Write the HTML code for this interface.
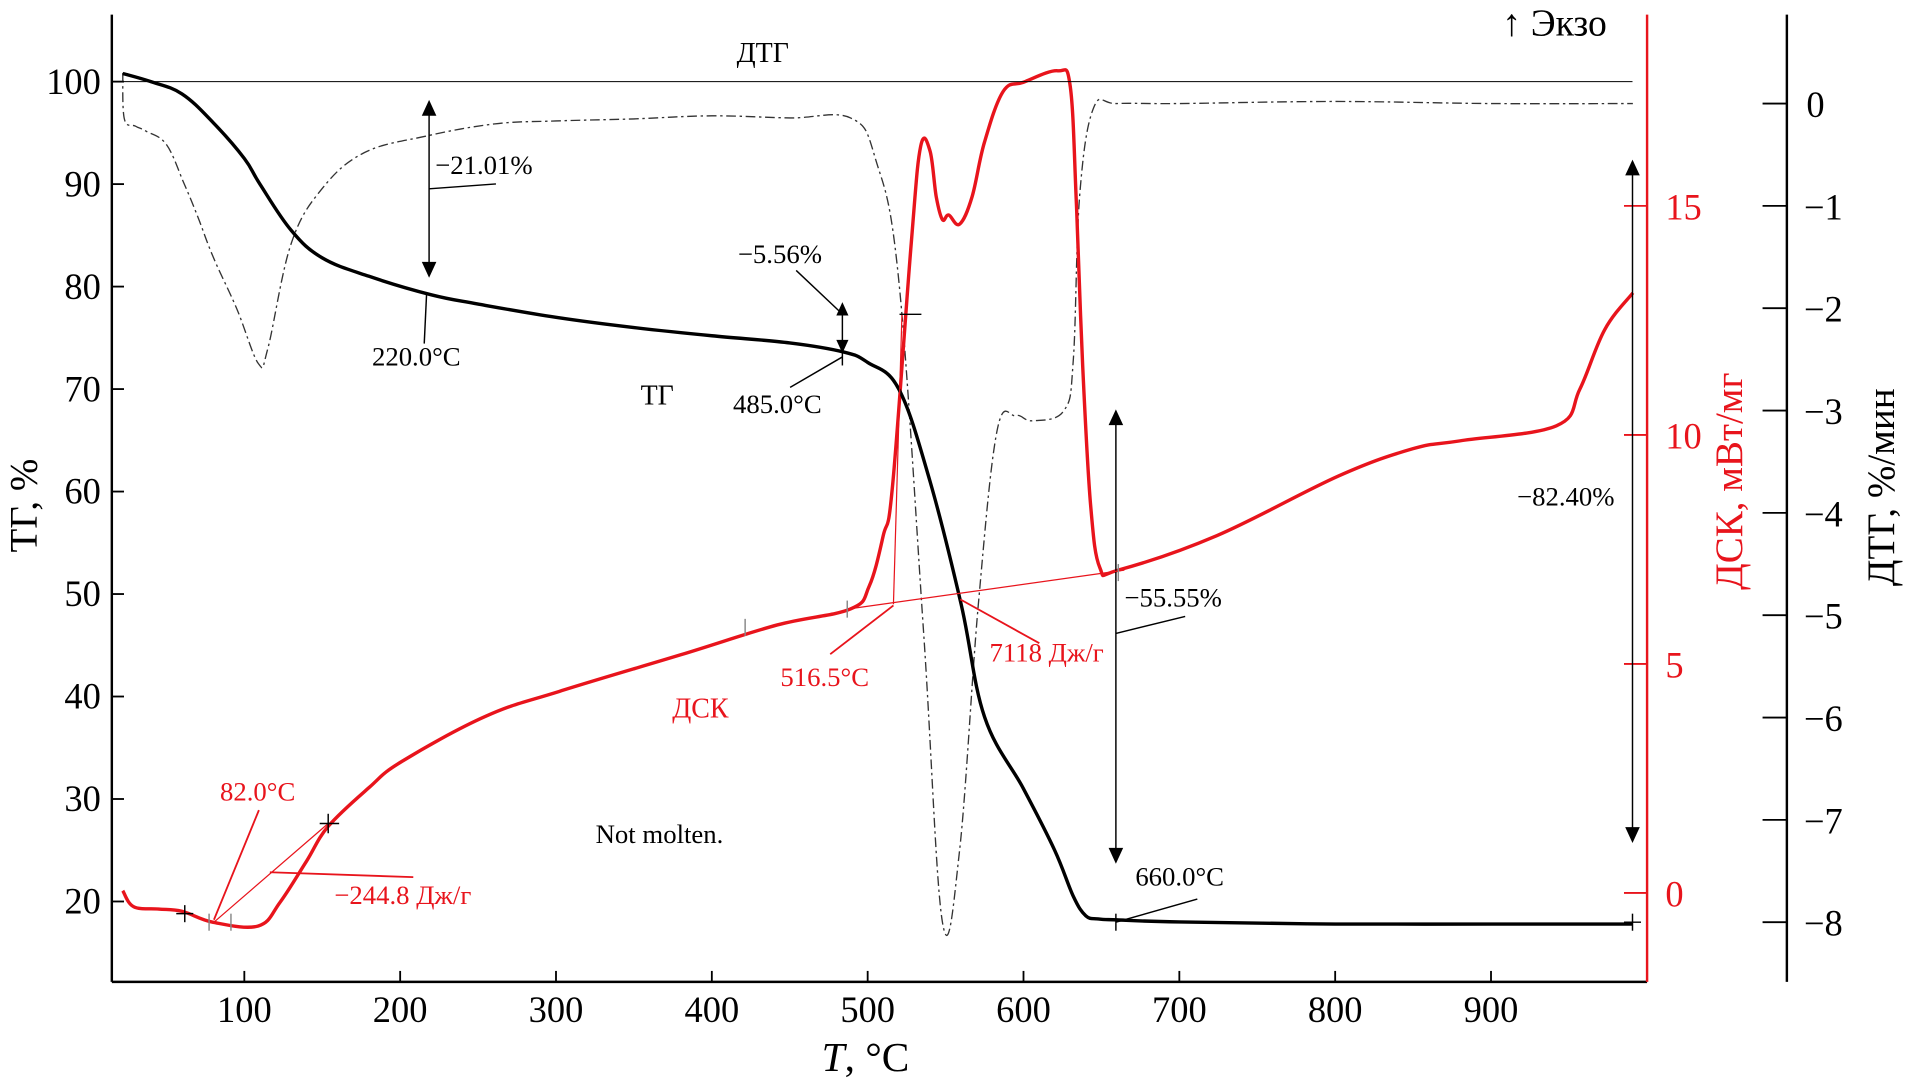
<!DOCTYPE html>
<html><head><meta charset="utf-8"><style>
html,body{margin:0;padding:0;background:#fff;}
svg{display:block;}
text{font-family:"Liberation Serif",serif;}
</style></head><body>
<svg id="chart" width="1906" height="1083" viewBox="0 0 1568 889" preserveAspectRatio="none" xmlns="http://www.w3.org/2000/svg">
<g id="axes"></g>
<g id="series"></g>
<g id="ann">
  <line x1="92" y1="67" x2="1343" y2="67" stroke="#000" stroke-width="0.8"/>
  <text x="606" y="51" font-size="23">ДТГ</text>
  <text x="1236" y="29" font-size="31">↑ Экзо</text>
  <text x="527" y="332" font-size="23">ТГ</text>
  <text x="553" y="589" font-size="23" fill="#e8141c">ДСК</text>
  <text x="490" y="692" font-size="22">Not molten.</text>
  <g stroke="#000" stroke-width="1.2" fill="none">
    <line x1="353" y1="92" x2="353" y2="218"/><line x1="353" y1="155" x2="408" y2="151"/>
    <line x1="351" y1="240" x2="349" y2="282"/>
    <line x1="655" y1="222" x2="690" y2="255"/>
    <line x1="693" y1="255" x2="693" y2="283"/><line x1="693" y1="293" x2="650" y2="318"/>
    <line x1="918" y1="345" x2="918" y2="700"/><line x1="918" y1="520" x2="975" y2="506"/>
    <line x1="918" y1="757" x2="985" y2="738"/>
    <line x1="1343" y1="140" x2="1343" y2="683"/>
    <line x1="918" y1="750" x2="918" y2="764"/><line x1="693" y1="286" x2="693" y2="300"/>
    <line x1="1336" y1="757" x2="1350" y2="757"/><line x1="1343" y1="750" x2="1343" y2="764"/>
  </g>
  <g fill="#000">
    <polygon points="353,82 347,95 359,95"/><polygon points="353,228 347,215 359,215"/>
    <polygon points="693,248 688,259 698,259"/><polygon points="693,290 688,279 698,279"/>
    <polygon points="918,336 912,349 924,349"/><polygon points="918,709 912,696 924,696"/>
    <polygon points="1343,131 1337,144 1349,144"/><polygon points="1343,692 1337,679 1349,679"/>
  </g>
  <text x="358" y="143" font-size="22">−21.01%</text>
  <text x="306" y="300" font-size="22">220.0°C</text>
  <text x="607" y="216" font-size="22">−5.56%</text>
  <text x="603" y="339" font-size="22">485.0°C</text>
  <text x="925" y="498" font-size="22">−55.55%</text>
  <text x="934" y="727" font-size="22">660.0°C</text>
  <text x="1248" y="415" font-size="22">−82.40%</text>
  <g stroke="#e8141c" stroke-width="1" fill="none">
    <line x1="176" y1="757" x2="270" y2="676"/>
    <line x1="213" y1="665" x2="176" y2="755" stroke-width="1.5"/>
    <line x1="222" y1="716" x2="340" y2="720" stroke-width="1.5"/>
    <line x1="697" y1="500" x2="925" y2="468"/>
    <line x1="735" y1="496" x2="742" y2="258"/>
    <line x1="735" y1="497" x2="683" y2="537" stroke-width="1.5"/>
    <line x1="790" y1="492" x2="855" y2="528" stroke-width="1.5"/>
  </g>
  <g stroke="#000" stroke-width="1.2">
    <line x1="152" y1="743" x2="152" y2="757"/><line x1="145" y1="750" x2="159" y2="750"/>
    <line x1="263" y1="676" x2="279" y2="676"/><line x1="270" y1="668" x2="270" y2="684"/>
    <line x1="740" y1="258" x2="758" y2="258"/>
  </g>
  <g stroke="#888" stroke-width="1.2">
    <line x1="172" y1="750" x2="172" y2="764"/><line x1="190" y1="750" x2="190" y2="764"/>
    <line x1="613" y1="508" x2="613" y2="522"/><line x1="697" y1="493" x2="697" y2="507"/>
    <line x1="920" y1="463" x2="920" y2="477"/>
  </g>
  <text x="181" y="657" font-size="22" fill="#e8141c">82.0°C</text>
  <text x="275" y="742" font-size="22" fill="#e8141c">−244.8 Дж/г</text>
  <text x="642" y="563" font-size="22" fill="#e8141c">516.5°C</text>
  <text x="814" y="543" font-size="22" fill="#e8141c">7118 Дж/г</text>
</g>
</svg>
<script>
const xTicks=[100,200,300,400,500,600,700,800,900];
const tgTicks=[20,30,40,50,60,70,80,90,100];
const dscTicks=[0,5,10,15];
const dtgTicks=[0,-1,-2,-3,-4,-5,-6,-7,-8];
const tgT=[22,40,60,80,100,110,130,150,180,220,250,300,350,400,450,485,500,520,540,560,575,600,620,632,640,648,660,700,800,900,991];
const tgV=[100.8,100,98.8,96,92.5,90,85.5,82.8,81,79.2,78.3,77,76,75.2,74.5,73.6,72.6,70,61,49,38,31,25,20.5,18.6,18.3,18.2,18,17.8,17.8,17.8];
const dtgT=[22,23,30,37,50,61,70,80,95,109,115,130,150,177,216,260,300,350,400,450,489,505,520,536,548,559,571,583,595,606,626,632,636,645,660,700,800,900,991];
const dtgV=[0.3,-0.15,-0.22,-0.27,-0.4,-0.77,-1.1,-1.5,-2,-2.54,-2.4,-1.37,-0.83,-0.48,-0.32,-0.2,-0.17,-0.15,-0.12,-0.14,-0.14,-0.54,-1.73,-5.2,-8,-7.3,-4.9,-3.2,-3.05,-3.1,-3.0,-2.5,-0.9,-0.04,0,0,0.02,0,0];
const dscT=[22,29,45,60,80,109,123,140,154,180,201,255,302,380,442,489,501,510,516,528,534,540,544,548,552,559,567,575,587,600,622,630,634,638,643,649,661,724,802,850,880,942,957,973,991];
const dscV=[0.05,-0.3,-0.35,-0.4,-0.64,-0.72,-0.2,0.7,1.46,2.3,2.87,3.86,4.4,5.2,5.85,6.2,6.7,7.8,8.9,14.2,16.3,16.2,15.2,14.7,14.8,14.6,15.2,16.4,17.5,17.7,17.95,17.6,15,11.5,8.5,7.1,7.05,7.8,9.1,9.7,9.87,10.2,11,12.3,13.1];
const X=t=>201+(t-100)*1.282;
const Ytg=v=>67+(100-v)*8.4125;
const Ydsc=v=>733-v*37.6;
const Ydtg=v=>85-v*84;
const NS="http://www.w3.org/2000/svg";
function mk(tag,attrs,parent){const e=document.createElementNS(NS,tag);for(const k in attrs)e.setAttribute(k,attrs[k]);parent.appendChild(e);return e;}
const ax=document.getElementById('axes');
const ln=(x1,y1,x2,y2,c,w)=>mk('line',{x1,y1,x2,y2,stroke:c,'stroke-width':w},ax);
let a=ln(92,12,92,806,'#000',2);
a=ln(92,806,1355,806,'#000',2);
a=ln(1355,12,1355,806,'#e8141c',2);
a=ln(1470,12,1470,806,'#000',2);
xTicks.forEach(t=>{ln(X(t),806,X(t),797,'#000',1.5);
 const e=mk('text',{x:X(t),y:839,'font-size':30,'text-anchor':'middle'},ax);e.textContent=t;
 
 });
tgTicks.forEach(v=>{ln(92,Ytg(v),102,Ytg(v),'#000',1.5);
 const e=mk('text',{x:83,y:Ytg(v)+10,'font-size':30,'text-anchor':'end'},ax);e.textContent=v;
 
 });
dscTicks.forEach(v=>{ln(1336,Ydsc(v),1355,Ydsc(v),'#e8141c',1.5);
 const e=mk('text',{x:1370,y:Ydsc(v)+11,'font-size':30,fill:'#e8141c'},ax);e.textContent=v;
 
 });
dtgTicks.forEach(v=>{ln(1450,Ydtg(v),1470,Ydtg(v),'#000',1.5);
 const e=mk('text',{x:v===0?1486:1484,y:Ydtg(v)+11,'font-size':30},ax);e.textContent=v===0?'0':'−'+(-v);
 
 });
let t=mk('text',{x:0,y:0,'font-size':32,'text-anchor':'middle',transform:'translate(30,415) rotate(-90)'},ax);t.textContent='ТГ, %';


t=mk('text',{x:0,y:0,'font-size':32,'text-anchor':'middle',fill:'#e8141c',transform:'translate(1433,395) rotate(-90)'},ax);t.textContent='ДСК, мВт/мг';


t=mk('text',{x:0,y:0,'font-size':32,'text-anchor':'middle',transform:'translate(1558,400) rotate(-90)'},ax);t.textContent='ДТГ, %/мин';


t=mk('text',{x:712,y:879,'font-size':34,'text-anchor':'middle'},ax);t.innerHTML='<tspan font-style="italic">T</tspan>, °C';


const sg=document.getElementById('series');
function path(xs,ys,f){
  const p=xs.map((x,i)=>[X(x),f(ys[i])]);
  let d='M'+p[0][0].toFixed(1)+' '+p[0][1].toFixed(1);
  for(let i=0;i<p.length-1;i++){
    const p0=p[Math.max(0,i-1)],p1=p[i],p2=p[i+1],p3=p[Math.min(p.length-1,i+2)];
    const k=0.18;
    const c1=[p1[0]+(p2[0]-p0[0])*k,p1[1]+(p2[1]-p0[1])*k];
    const c2=[p2[0]-(p3[0]-p1[0])*k,p2[1]-(p3[1]-p1[1])*k];
    d+=' C'+c1[0].toFixed(1)+' '+c1[1].toFixed(1)+' '+c2[0].toFixed(1)+' '+c2[1].toFixed(1)+' '+p2[0].toFixed(1)+' '+p2[1].toFixed(1);
  }
  return d;
}
let p=mk('path',{d:path(dtgT,dtgV,Ydtg),fill:'none',stroke:'#333','stroke-width':1.1,'stroke-dasharray':'8 3 2 3'},sg);


p=mk('path',{d:path(dscT,dscV,Ydsc),fill:'none',stroke:'#e8141c','stroke-width':2.8,'stroke-linejoin':'round'},sg);


p=mk('path',{d:path(tgT,tgV,Ytg),fill:'none',stroke:'#000','stroke-width':2.8,'stroke-linejoin':'round'},sg);


</script>
</body></html>
